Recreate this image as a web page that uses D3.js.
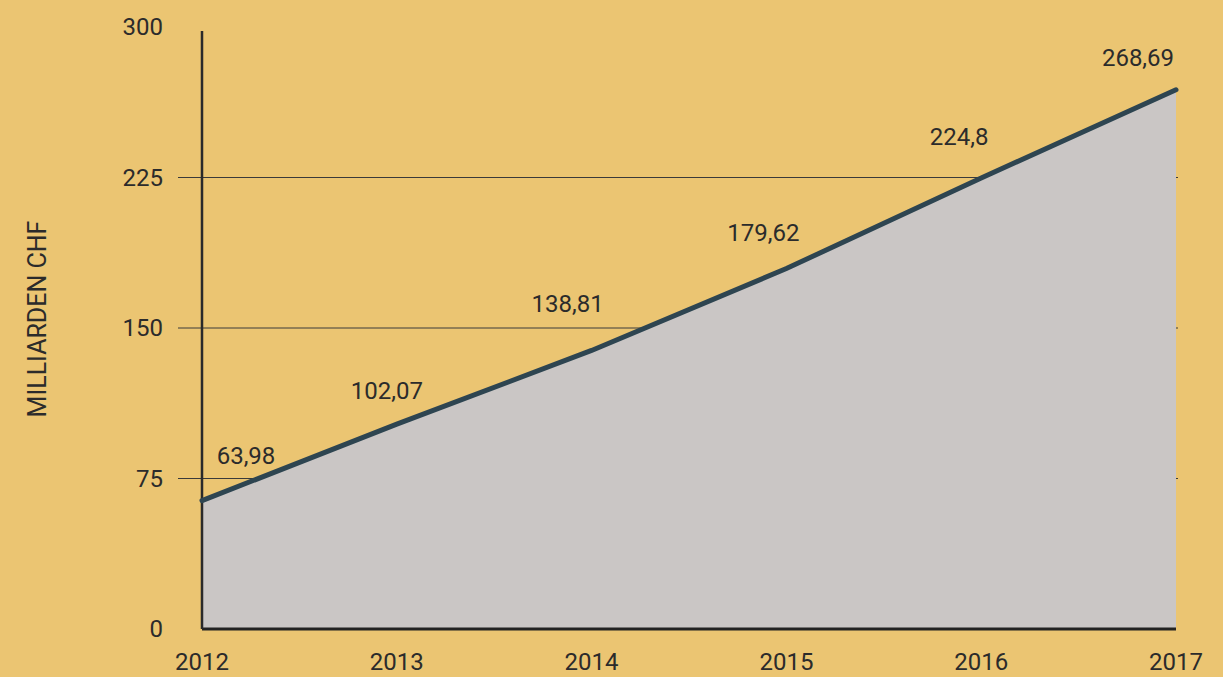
<!DOCTYPE html>
<html>
<head>
<meta charset="utf-8">
<script src="https://cdn.jsdelivr.net/npm/d3@7"></script>
<style>
  html, body { margin: 0; padding: 0; background: #ebc572; }
  svg { display: block; }
  text { font-family: Roboto, "Noto Sans", sans-serif; fill: #2b2b2b; }
</style>
</head>
<body>
<svg id="chart"></svg>
<script>
// data
const years = [2012, 2013, 2014, 2015, 2016, 2017];
const values = [63.98, 102.07, 138.81, 179.62, 224.8, 268.69];
const valueLabels = ['63,98', '102,07', '138,81', '179,62', '224,8', '268,69'];
const yTicks = [0, 75, 150, 225, 300];
const gridTicks = [75, 150, 225];

// label placement relative to each point
const labelOffsets = [[44, -37], [-10, -25], [-24, -38], [-23, -28], [-22, -33], [-38, -24]];

const W = 1223, H = 677;
const margin = { top: 27, right: 47, bottom: 48, left: 202 };
const width = W - margin.left - margin.right;
const height = H - margin.top - margin.bottom;

const svg = d3.select('#chart').attr('width', W).attr('height', H);

svg.append('rect').attr('width', W).attr('height', H).attr('fill', '#ebc572');

const g = svg.append('g').attr('transform', `translate(${margin.left},${margin.top})`);

const x = d3.scaleLinear().domain([2012, 2017]).range([0, width]);
const y = d3.scaleLinear().domain([0, 300]).range([height, 0]);

const data = years.map((yr, i) => ({ year: yr, value: values[i], label: valueLabels[i] }));

// gridlines (behind the area)
g.append('g')
  .selectAll('line')
  .data(gridTicks)
  .enter()
  .append('line')
  .attr('x1', -24)
  .attr('x2', width + 2)
  .attr('y1', (d) => y(d))
  .attr('y2', (d) => y(d))
  .attr('stroke', '#3a3a3a')
  .attr('stroke-width', 1);

// area
const area = d3.area()
  .x((d) => x(d.year))
  .y0(y(0))
  .y1((d) => y(d.value));

g.append('path')
  .datum(data)
  .attr('d', area)
  .attr('fill', '#cac6c5');

// baseline
g.append('line')
  .attr('x1', 0)
  .attr('x2', width)
  .attr('y1', y(0))
  .attr('y2', y(0))
  .attr('stroke', '#222')
  .attr('stroke-width', 3);

// y axis line
g.append('line')
  .attr('x1', 0)
  .attr('x2', 0)
  .attr('y1', 4)
  .attr('y2', y(0))
  .attr('stroke', '#2a2a2a')
  .attr('stroke-width', 2.5);

// main line
const line = d3.line()
  .x((d) => x(d.year))
  .y((d) => y(d.value));

g.append('path')
  .datum(data)
  .attr('d', line)
  .attr('fill', 'none')
  .attr('stroke', '#2e4551')
  .attr('stroke-width', 5)
  .attr('stroke-linecap', 'round');

// y tick labels
g.append('g')
  .selectAll('text')
  .data(yTicks)
  .enter()
  .append('text')
  .attr('x', -39)
  .attr('y', (d) => y(d))
  .attr('dy', '0.35em')
  .attr('text-anchor', 'end')
  .style('font-size', '24px')
  .text((d) => d);

// x tick labels
g.append('g')
  .selectAll('text')
  .data(years)
  .enter()
  .append('text')
  .attr('x', (d) => x(d))
  .attr('y', height + 41)
  .attr('text-anchor', 'middle')
  .style('font-size', '24px')
  .text((d) => d);

// value labels
g.append('g')
  .selectAll('text')
  .data(data)
  .enter()
  .append('text')
  .attr('x', (d, i) => x(d.year) + labelOffsets[i][0])
  .attr('y', (d, i) => y(d.value) + labelOffsets[i][1])
  .attr('text-anchor', 'middle')
  .style('font-size', '24px')
  .text((d) => d.label);

// y axis title
svg.append('text')
  .attr('transform', 'translate(46,319) rotate(-90)')
  .attr('text-anchor', 'middle')
  .style('font-size', '25px')
  .text('MILLIARDEN CHF');
</script>
</body>
</html>
